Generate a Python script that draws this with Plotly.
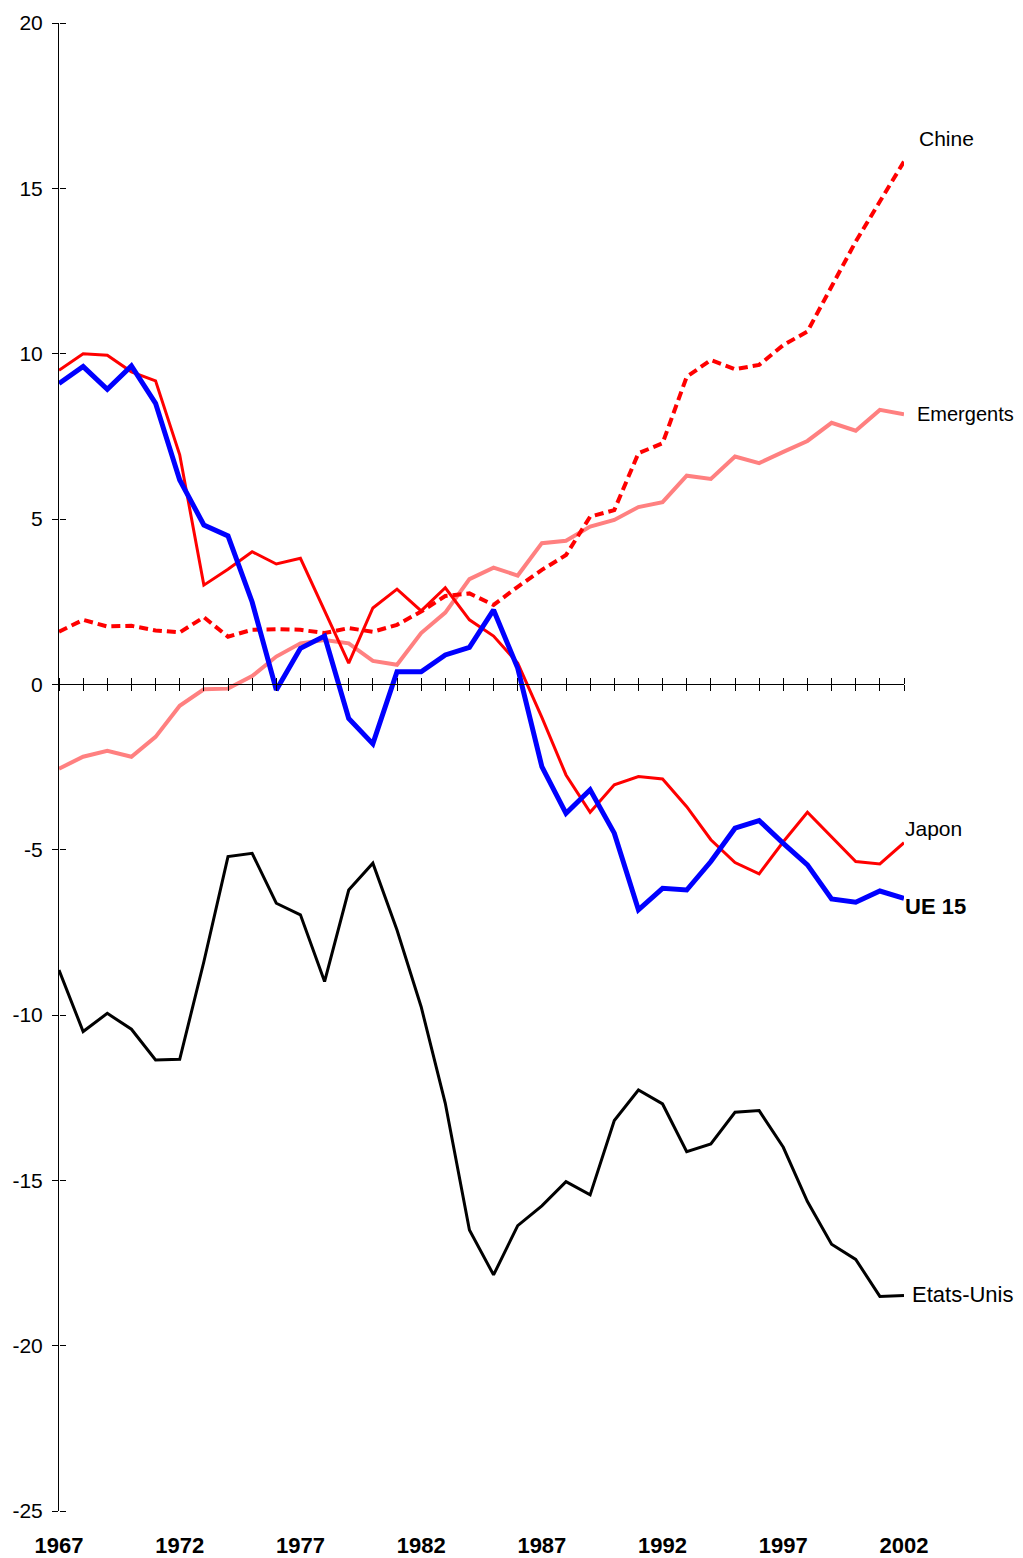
import plotly.graph_objects as go

years = list(range(1967, 2003))

japon = [9.5, 10.0, 9.95, 9.45, 9.18, 6.94, 3.0, 3.48, 4.01, 3.64, 3.81, 2.2, 0.64, 2.31, 2.88, 2.22,
         2.92, 1.95, 1.46, 0.64, -1.0, -2.74, -3.87, -3.04, -2.79, -2.86, -3.70, -4.70, -5.39, -5.73,
         -4.76, -3.87, -4.63, -5.36, -5.43, -4.79]
ue15 = [9.10, 9.61, 8.92, 9.63, 8.50, 6.18, 4.82, 4.49, 2.49, -0.17, 1.09, 1.46, -1.03, -1.80, 0.38, 0.38,
        0.89, 1.12, 2.25, 0.49, -2.49, -3.90, -3.19, -4.50, -6.82, -6.17, -6.22, -5.36, -4.35, -4.12,
        -4.81, -5.46, -6.49, -6.59, -6.25, -6.47]
chine = [1.59, 1.95, 1.75, 1.77, 1.63, 1.57, 2.03, 1.44, 1.65, 1.67, 1.65, 1.55, 1.70, 1.59, 1.80, 2.20,
         2.67, 2.75, 2.40, 2.95, 3.46, 3.91, 5.07, 5.27, 6.99, 7.29, 9.30, 9.81, 9.53, 9.66,
         10.26, 10.67, 12.03, 13.39, 14.60, 15.81]
emergents = [-2.55, -2.19, -2.01, -2.19, -1.59, -0.65, -0.15, -0.13, 0.25, 0.84, 1.24, 1.34, 1.24, 0.71,
             0.59, 1.55, 2.17, 3.18, 3.53, 3.29, 4.27, 4.34, 4.77, 4.97, 5.36, 5.51, 6.31, 6.21, 6.89,
             6.69, 7.03, 7.36, 7.91, 7.67, 8.30, 8.17]
etats_unis = [-8.64, -10.50, -9.95, -10.43, -11.36, -11.34, -8.39, -5.21, -5.11, -6.62, -6.97, -8.99,
              -6.22, -5.41, -7.43, -9.75, -12.67, -16.50, -17.86, -16.37, -15.77, -15.04, -15.44,
              -13.19, -12.27, -12.69, -14.13, -13.90, -12.94, -12.89, -14.00, -15.64, -16.93, -17.39,
              -18.51, -18.48]

label_years = list(range(1967, 2003, 5))
y_ticks = list(range(-25, 21, 5))

FONT = "Arial, Liberation Sans, sans-serif"

fig = go.Figure()

# --- series ---
series = [
    ("Etats-Unis", etats_unis, dict(color="black", width=3)),
    ("Emergents", emergents, dict(color="#FF8080", width=4)),
    ("Chine", chine, dict(color="#FF0000", width=4, dash="9px,5px")),
    ("Japon", japon, dict(color="#FF0000", width=3)),
    ("UE 15", ue15, dict(color="#0000FF", width=5)),
]
for name, vals, line in series:
    fig.add_trace(go.Scatter(x=years, y=vals, mode="lines", name=name, line=line,
                             showlegend=False))

# dummy traces so the extra tick axes get drawn
for xa, ya in [("x2", "y"), ("x3", "y"), ("x", "y2")]:
    fig.add_trace(go.Scatter(x=[None], y=[None], xaxis=xa, yaxis=ya, showlegend=False,
                             hoverinfo="skip"))

# --- end-of-line labels: (text, y, xshift, yshift, size, bold) ---
labels = [
    ("Chine", chine[-1], 13, 23, 21, False),
    ("Emergents", emergents[-1], 11, 0, 20, False),
    ("Japon", japon[-1], -1, 14, 21, False),
    ("UE 15", ue15[-1], -1, -8, 22, True),
    ("Etats-Unis", etats_unis[-1], 6, 1, 22, False),
]
for txt, yv, dx, dy, size, bold in labels:
    fig.add_annotation(x=years[-1], y=yv, text=txt, showarrow=False, xanchor="left",
                       yanchor="middle", xshift=dx, yshift=dy,
                       font=dict(family=FONT, size=size, color="black",
                                 weight="bold" if bold else "normal"))

zero_pos = 25 / 45
common_x = dict(range=[1967, 2002], showgrid=False, zeroline=False, automargin=False)
common_y = dict(range=[-25, 20], showgrid=False, zeroline=False, automargin=False)

# page body has an 8px margin, so the figure is a bit smaller than the window
fig.update_layout(
    width=1015, height=1550,
    margin=dict(l=51, r=119, t=15, b=47, autoexpand=False),
    plot_bgcolor="white", paper_bgcolor="white",
    font=dict(family=FONT, size=21, color="black"),
    xaxis=dict(**common_x, tickvals=label_years, ticktext=[str(y) for y in label_years],
               ticks="", showline=False, ticklabelstandoff=19,
               tickfont=dict(family=FONT, size=22, weight="bold")),
    xaxis2=dict(**common_x, overlaying="x", anchor="free", position=zero_pos, side="bottom",
                showline=True, linecolor="black", linewidth=1, ticks="outside", ticklen=6,
                tickcolor="black", tick0=1967, dtick=1, showticklabels=False),
    xaxis3=dict(**common_x, overlaying="x", anchor="free", position=zero_pos, side="top",
                showline=False, ticks="outside", ticklen=6, tickcolor="black", tick0=1967,
                dtick=1, showticklabels=False),
    yaxis=dict(**common_y, tickvals=y_ticks, ticktext=[str(v) for v in y_ticks],
               showline=True, linecolor="black", linewidth=1, ticks="outside", ticklen=6,
               tickcolor="black", ticklabelstandoff=5, tickfont=dict(family=FONT, size=21)),
    yaxis2=dict(**common_y, tickvals=y_ticks, overlaying="y", anchor="free", position=0,
                side="right", showline=False, ticks="outside",
                ticklen=6, tickcolor="black", showticklabels=False),
)

fig.write_html("out.html")
